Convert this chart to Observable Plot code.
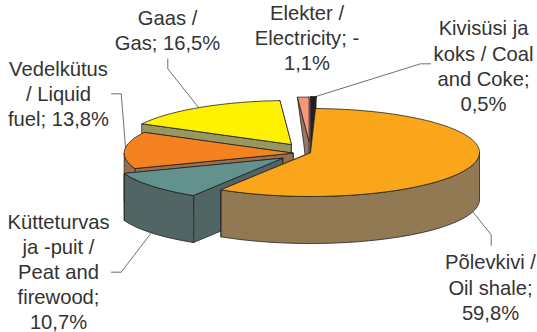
<!DOCTYPE html>
<html>
<head>
<meta charset="utf-8">
<script src="https://cdn.jsdelivr.net/npm/d3@7"></script>
<script src="https://cdn.jsdelivr.net/npm/@observablehq/plot@0.6"></script>
<style>
  html, body { margin: 0; padding: 0; background: #fff; }
  svg { display: block; }
</style>
</head>
<body>
<div id="chart"></div>
<script>
// Fuel shares, in pie order (clockwise from the first slice)
const fuels = ["Põlevkivi", "Kütteturvas", "Vedelkütus", "Gaas", "Elekter", "Kivisüsi"];
const shares = [59.8, 10.7, 13.8, 16.5, -1.1, 0.5];
const labels = [
  "Põlevkivi /\nOil shale;\n59,8%",
  "Kütteturvas\nja -puit /\nPeat and\nfirewood;\n10,7%",
  "Vedelkütus\n/ Liquid\nfuel; 13,8%",
  "Gaas /\nGas; 16,5%",
  "Elekter /\nElectricity; -\n1,1%",
  "Kivisüsi ja\nkoks / Coal\nand Coke;\n0,5%"
];
const topColors = ["#faa61a", "#62918e", "#f58220", "#fff200", "#f7977a", "#231f20"];
const wallColors = ["#917a53", "#516564", "#96704f", "#97975f", "#997766", "#231f20"];

// Pie geometry: tilted ellipse, extrusion depth and each slice's pulled-out hub
const rx = 169, ry = 44, depth = 47, firstAngle = 1.7;
const hubX = [310, 282.3, 292.7, 290.7, 308.5, 310.5];
const hubY = [152, 157.7, 152.7, 144, 140.6, 140];
const labelX = [490, 58, 58, 167, 306.5, 483];
const labelY = [286, 270.5, 92.5, 28.5, 36.5, 64.5];
const leaders = [
  [[490.7, 245], [490.7, 234.3], [472.7, 211.7]],
  [[111, 271.7], [120.7, 271.7], [150, 233.3]],
  [[111, 93.3], [120.7, 93.3], [125, 146.7]],
  [[167.3, 58.3], [167.3, 68.3], [198.3, 107.3]],
  [],
  [[430, 63.3], [420, 63.3], [316, 95.8]]
];
// The narrow electricity slice has its outer side face drawn leaning inwards
const faceLean = [0, 0, 0, 0, 6.4, 0];

// Excel-style pies size slices by absolute value
const total = d3.sum(shares, Math.abs);
let running = firstAngle;
const slices = fuels.map((fuel, i) => {
  const start = running;
  running += Math.abs(shares[i]) / total * 360;
  return {fuel, i, start, end: running};
});

const rim = (s, deg, drop = 0) => {
  const a = deg * Math.PI / 180;
  return {x: hubX[s.i] + rx * Math.sin(a), y: hubY[s.i] - ry * Math.cos(a) + drop};
};
const arc = (s, from, to, drop = 0) => {
  const n = Math.max(2, Math.ceil(Math.abs(to - from) / 2));
  return d3.range(n + 1).map(k => rim(s, from + (to - from) * k / n, drop));
};
const hub = (s, drop = 0) => ({x: hubX[s.i], y: hubY[s.i] + drop});

const polygon = (points, fill) => Plot.line(points, {
  x: "x", y: "y", fill, stroke: "#231f20", strokeWidth: 0.8,
  curve: "linear-closed", strokeLinejoin: "round"
});

function sliceMarks(s) {
  const wall = wallColors[s.i];
  const marks = [
    polygon([rim(s, s.end), hub(s), hub(s, depth), rim(s, s.end, depth)], wall),
    polygon([rim(s, s.start), hub(s), hub(s, depth),
      {x: rim(s, s.start).x + faceLean[s.i], y: rim(s, s.start, depth).y}], wall)
  ];
  // Only the near half of the rim faces the viewer
  const from = Math.max(s.start, 90), to = Math.min(s.end, 270);
  if (to > from) marks.push(polygon([...arc(s, from, to), ...arc(s, to, from, depth)], wall));
  marks.push(polygon([hub(s), ...arc(s, s.start, s.end)], topColors[s.i]));
  return marks;
}

// Back-to-front painting order
const paintOrder = [3, 2, 1, 4, 5, 0];

const leaderRows = leaders.flatMap((pts, i) => pts.map(([x, y]) => ({x, y, i})));
const labelRows = labels.map((text, i) => ({text, x: labelX[i], y: labelY[i]}));

const chart = Plot.plot({
  width: 537,
  height: 332,
  margin: 0,
  style: {background: "#fff"},
  x: {domain: [0, 537], axis: null},
  y: {domain: [332, 0], axis: null},
  marks: [
    Plot.line(leaderRows, {x: "x", y: "y", z: "i", stroke: "#4a4a4a", strokeWidth: 0.8, curve: "linear"}),
    ...paintOrder.flatMap(i => sliceMarks(slices[i])),
    Plot.text(labelRows, {
      x: "x", y: "y", text: "text", textAnchor: "middle", lineAnchor: "middle",
      lineHeight: 1.24, fontSize: 20.2, fill: "#333333",
      fontFamily: "'Liberation Sans', Arial, sans-serif"
    })
  ]
});
document.getElementById("chart").append(chart);
</script>
</body>
</html>
